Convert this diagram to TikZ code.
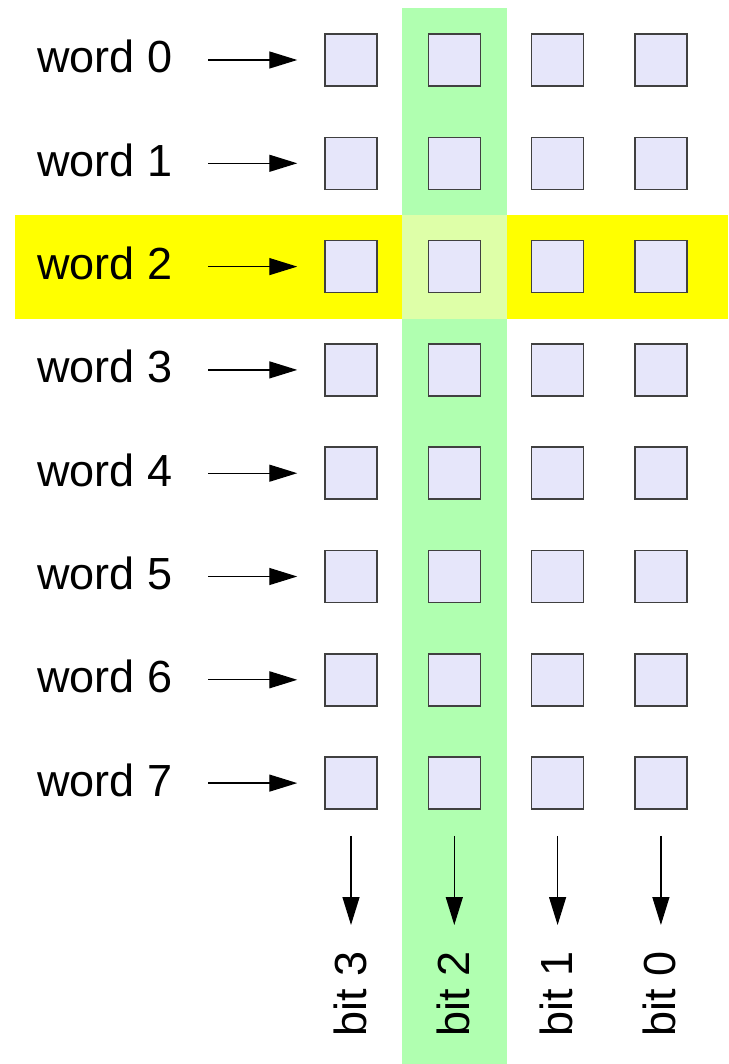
\documentclass[tikz,border=0pt]{standalone}
\usepackage{fontspec}
\setmainfont{Liberation Sans}
\usetikzlibrary{arrows.meta}
\definecolor{lavender}{RGB}{230,230,250}
\definecolor{wordhl}{RGB}{255,255,0}
\definecolor{bithl}{RGB}{176,255,176}
\definecolor{bothhl}{RGB}{222,255,168}

\begin{document}
\begin{tikzpicture}[x=1pt, y=-1pt]
\tikzset{cell/.style={draw=black!75, line width=1.5pt, fill=lavender, minimum size=52pt, inner sep=0pt}}
\tikzset{lbl/.style={font=\fontsize{45}{54}\selectfont, inner sep=0pt}}
\tikzset{arr/.style={line width=1.3pt, -{Triangle[length=28pt,width=17pt]}}}
\useasboundingbox (0,0) rectangle (728,1064);
\fill[wordhl] (15,215) rectangle (728,319);
\fill[bithl] (402,8) rectangle (507,1064);
\fill[bothhl] (402,215) rectangle (507,319);
\foreach \i in {0,...,7} {
  \node[lbl, anchor=base west] (word\i) at (37,60+103.3*\i+13) {word \i};
  \foreach \j in {0,...,3}
    \node[cell] (cell-\i-\j) at (351+103.3*\j,60+103.3*\i) {};
  \coordinate (from\i) at (208,60+103.3*\i);
  \draw[arr, shorten >=27pt] (from\i) -- (cell-\i-0.west);
}
\foreach \j/\b in {0/3,1/2,2/1,3/0} {
  \coordinate (to\b) at (351+103.3*\j,925);
  \draw[arr, shorten <=26pt] (cell-7-\j.south) -- (to\b);
  \node[lbl, rotate=90, anchor=base west] (bit\b) at (351+103.3*\j+15,1037) {bit \b};
}
\end{tikzpicture}
\end{document}
